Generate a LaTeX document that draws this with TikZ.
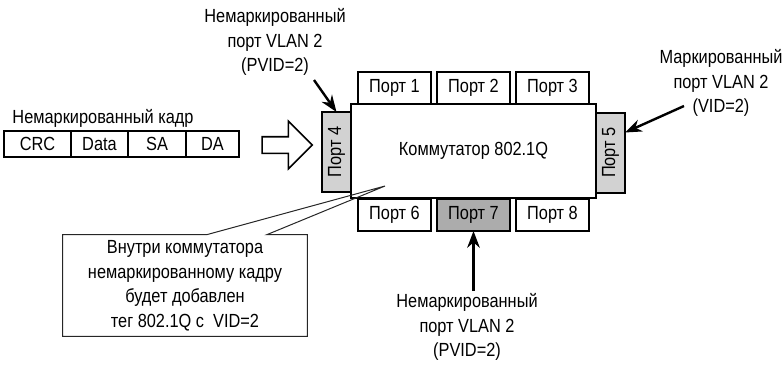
\documentclass[tikz,border=0pt]{standalone}
\usepackage{fontspec}
\setmainfont[FakeStretch=0.86]{Liberation Sans}
\usetikzlibrary{arrows.meta, positioning, calc, shapes}

\begin{document}
\begin{tikzpicture}[
    x=0.5pt, y=-0.5pt,
    >=Stealth,
    font=\fontsize{9.5}{12.25}\selectfont,
    box/.style={draw, line width=1pt, rectangle, inner sep=0pt, outer sep=0pt},
    field/.style={box, minimum height=13pt},
    port/.style={box, fill=white, minimum width=36.5pt, minimum height=16pt},
    sideport/.style={box, fill=gray!35, minimum width=14.5pt, minimum height=40pt},
    tagtext/.style={align=center, inner sep=1pt},
    msg/.style={->, line width=1.2pt},
    callout/.style={draw=black!85, line width=0.5pt}
]
    \useasboundingbox (0,0) rectangle (782,366);

    % --- Frame ---
    \node (FrameLbl) at (103,118) {Немаркированный кадр};
    \node[field, minimum width=33.5pt] (CRC) at (37.5,144) {CRC};
    \node[field, minimum width=28.5pt, right=0pt of CRC] (Data) {Data};
    \node[field, minimum width=29pt, right=0pt of Data] (SA) {SA};
    \node[field, minimum width=26.5pt, right=0pt of SA] (DA) {DA};

    % --- Hollow arrow ---
    \node[single arrow, draw, line width=0.8pt, minimum height=25pt, inner sep=0pt, inner ysep=3.75pt,
          single arrow head extend=7.75pt, single arrow tip angle=90] (Push) at (283,145) {};

    % --- Switch ---
    \node[box, minimum width=122.5pt, minimum height=47pt] (Switch) at (473.5,151) {Коммутатор 802.1Q};
    \node[port] (Port1) at (394.5,88) {Порт 1};
    \node[port] (Port2) at (473.5,88) {Порт 2};
    \node[port] (Port3) at (552.5,88) {Порт 3};
    \node[port] (Port6) at (394.5,215) {Порт 6};
    \node[port, fill=gray!65] (Port7) at (473.5,215) {Порт 7};
    \node[port] (Port8) at (552.5,215) {Порт 8};
    \node[sideport] (Port4) at (336.5,152) {\rotatebox{90}{Порт 4}};
    \node[sideport] (Port5) at (610.5,152.5) {\rotatebox{90}{Порт 5}};

    % --- Port labels ---
    \node[tagtext] (Lbl4) at (275,42) {Немаркированный\\порт VLAN 2\\(PVID=2)};
    \node[tagtext] (Lbl5) at (721,83) {Маркированный\\порт VLAN 2\\(VID=2)};
    \node[tagtext] (Lbl7) at (467,327) {Немаркированный\\порт VLAN 2\\(PVID=2)};

    \coordinate (Tail4) at (314,80);
    \coordinate (Tail5) at (684,106);
    \draw[msg] (Tail4) -- (Port4.north);
    \draw[msg] (Tail5) -- ([yshift=10pt]Port5.east);
    \draw[msg] (Lbl7.north -| Port7.south) -- (Port7.south);

    % --- Callout ---
    \node[tagtext, minimum width=122pt, minimum height=50.5pt] (Note) at (185,285.5)
        {Внутри коммутатора\\немаркированному кадру\\будет добавлен\\тег 802.1Q с\ \ VID=2};
    \coordinate (Apex) at (385,186);
    \draw[callout] (Note.north west) -- ([xshift=11pt]Note.north) -- (Apex)
        -- ([xshift=41pt]Note.north) -- (Note.north east) -- (Note.south east)
        -- (Note.south west) -- cycle;

\end{tikzpicture}
\end{document}
